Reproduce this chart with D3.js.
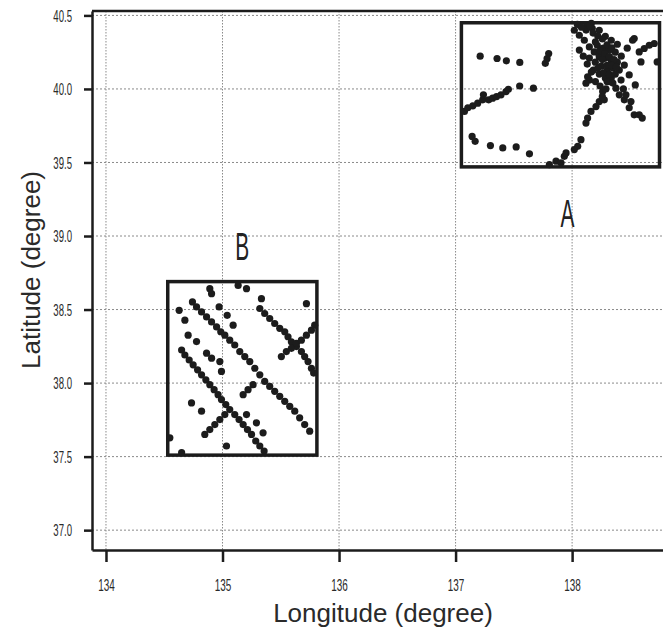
<!DOCTYPE html>
<html><head><meta charset="utf-8">
<script src="https://cdn.jsdelivr.net/npm/d3@7"></script>
<style>
html,body{margin:0;padding:0;background:#fff;}
svg{display:block;}
</style></head>
<body>
<svg id="chart" width="663" height="635"></svg>
<script>
// ---- data ----
const lonTicks = [134, 135, 136, 137, 138];
const latTicks = [37.0, 37.5, 38.0, 38.5, 39.0, 39.5, 40.0, 40.5];
const regionNames = ["A", "B"];
const regionLon = [[137.05, 138.75], [134.53, 135.81]];
const regionLat = [[39.47, 40.45], [37.51, 38.69]];
const regionLabelPos = [[137.96, 39.06], [135.17, 38.84]];

// Region A points (lon, lat)
const pointsALon = [
 137.211,137.356,137.436,137.551,137.770,137.799,137.785,
 137.076,137.105,137.148,137.190,137.233,137.239,137.284,137.318,137.352,137.390,137.433,137.453,137.550,137.668,
 137.142,137.168,137.299,137.405,137.520,137.634,
 137.805,137.862,137.933,137.948,138.019,138.048,138.076,137.905,
 138.019,138.062,138.105,138.148,138.190,138.233,138.119,138.173,138.233,
 138.319,138.376,138.405,138.448,138.490,138.533,138.576,138.602,138.462,138.505,
 138.262,138.233,138.205,138.162,138.133,138.119,138.148,138.119,138.133,
 138.533,138.576,138.619,138.662,138.705,138.730,138.519,138.591,
 138.276,138.259,
 138.216,138.267,138.319,138.370,138.233,138.285,138.336,138.388,138.199,138.250,138.302,138.353,138.405,138.233,138.285,138.336,138.182,138.148,138.422,138.448,138.062,138.096,138.130,138.165,138.388,138.336,138.285,138.473,138.490,138.542,
 138.045,138.165,
 138.18,138.22,138.26,138.30,138.34,138.20,138.24,138.28,138.32,138.36,138.26,138.30,138.34,138.38,138.22,138.27,138.32,138.37,138.30,138.35,138.42,138.44,138.20,138.24,138.29,138.12,138.08,138.15
];
const pointsALat = [
 40.223,40.207,40.191,40.180,40.174,40.241,40.206,
 39.847,39.872,39.885,39.903,39.926,39.960,39.926,39.937,39.948,39.960,39.982,39.998,40.020,40.005,
 39.677,39.644,39.615,39.599,39.606,39.559,
 39.486,39.509,39.542,39.565,39.588,39.610,39.655,39.498,
 40.399,40.365,40.331,40.286,40.252,40.218,40.421,40.412,40.399,
 40.049,40.005,39.960,39.926,39.872,39.824,39.824,39.802,39.960,39.914,
 39.982,39.914,39.880,39.847,39.802,39.768,40.061,40.039,40.083,
 40.343,40.252,40.275,40.297,40.309,40.184,40.331,40.184,
 39.926,39.948,
 40.297,40.277,40.264,40.250,40.230,40.210,40.196,40.182,40.182,40.155,40.128,40.142,40.128,40.101,40.074,40.074,40.128,40.210,40.223,40.162,40.264,40.223,40.169,40.115,40.304,40.331,40.358,40.277,40.095,40.027,
 40.439,40.446,
 40.38,40.36,40.34,40.30,40.28,40.32,40.26,40.24,40.22,40.20,40.20,40.16,40.16,40.15,40.14,40.11,40.10,40.10,40.05,40.04,40.06,40.00,40.05,40.02,40.00,40.40,40.42,40.43
];

// Region B points (lon, lat)
const pointsBLon = [
 134.742,134.777,134.820,134.863,134.906,134.949,134.985,135.020,135.062,135.105,135.148,135.191,135.234,135.277,135.320,135.362,135.405,135.448,135.491,135.534,135.577,135.620,135.662,135.705,135.748,
 134.649,134.677,134.714,134.748,134.786,134.820,134.857,134.891,134.928,134.962,134.991,135.028,135.062,135.105,135.142,135.177,135.214,135.249,135.285,135.320,135.357,
 135.320,135.362,135.405,135.448,135.491,135.534,135.562,135.591,135.634,135.677,135.705,135.734,135.763,135.782,
 135.505,135.548,135.591,135.634,135.677,135.720,135.763,135.791,
 135.334,135.720,
 135.177,135.219,135.262,
 134.848,134.891,134.934,134.977,135.020,
 134.677,134.705,134.777,134.863,134.906,134.977,134.991,134.891,134.906,134.971,135.040,135.091,134.734,134.820,135.206,135.291,135.348,135.034,134.548,134.649,135.134,135.206,134.628
];
const pointsBLat = [
 38.552,38.518,38.484,38.450,38.416,38.382,38.349,38.326,38.292,38.259,38.214,38.180,38.146,38.101,38.056,38.011,37.977,37.944,37.910,37.876,37.842,37.809,37.764,37.718,37.673,
 38.225,38.191,38.157,38.124,38.090,38.056,38.022,37.989,37.955,37.921,37.888,37.854,37.820,37.786,37.752,37.718,37.684,37.651,37.606,37.572,37.538,
 38.507,38.473,38.439,38.405,38.372,38.349,38.315,38.281,38.248,38.214,38.180,38.146,38.101,38.068,
 38.180,38.214,38.236,38.270,38.292,38.326,38.360,38.394,
 38.574,38.540,
 37.921,37.955,37.989,
 37.651,37.684,37.718,37.752,37.786,
 38.428,38.326,38.282,38.203,38.169,38.146,38.079,38.642,38.608,38.518,38.461,38.394,37.865,37.809,37.786,37.730,37.662,37.572,37.628,37.527,38.664,38.642,38.495
];

const xTitle = "Longitude (degree)";
const yTitle = "Latitude (degree)";

// ---- drawing ----
const svg = d3.select("#chart");
const pLeft = 92, pRight = 663, pTop = 11, pBottom = 550;
const x = d3.scaleLinear().domain([133.88, 138.78]).range([pLeft, pRight]);
const y = d3.scaleLinear().domain([36.865, 40.53]).range([pBottom, pTop]);
const ink = "#1c1c1c";

// grid
const grid = svg.append("g");
grid.selectAll("line.v").data(lonTicks).join("line")
  .attr("x1", d => x(d)).attr("x2", d => x(d))
  .attr("y1", pTop).attr("y2", pBottom)
  .attr("stroke", "#8a8a8a").attr("stroke-width", 1).attr("stroke-dasharray", "1.5,1.5");
grid.selectAll("line.h").data(latTicks).join("line")
  .attr("x1", pLeft).attr("x2", pRight)
  .attr("y1", d => y(d)).attr("y2", d => y(d))
  .attr("stroke", "#8a8a8a").attr("stroke-width", 1).attr("stroke-dasharray", "2,2");

// top frame line
svg.append("line").attr("x1", pLeft).attr("x2", pRight).attr("y1", pTop).attr("y2", pTop)
  .attr("stroke", ink).attr("stroke-width", 2.5);

// axes
const yAxis = d3.axisLeft(y).tickValues(latTicks).tickSize(8).tickSizeOuter(0).tickFormat(d3.format(".1f"));
const gy = svg.append("g").attr("transform", `translate(${pLeft},0)`).call(yAxis);
const xAxis = d3.axisBottom(x).tickValues(lonTicks).tickSize(12).tickSizeOuter(0).tickFormat(d3.format("d"));
const gx = svg.append("g").attr("transform", `translate(0,${pBottom})`).call(xAxis);
[gx, gy].forEach(g => {
  g.select(".domain").attr("stroke", ink).attr("stroke-width", 2.5);
  g.selectAll(".tick line").attr("stroke", ink).attr("stroke-width", 2.5);
  g.selectAll(".tick text").attr("fill", "#2a2a2a")
    .attr("font-family", "'Liberation Sans', Arial, sans-serif").attr("font-size", 16);
});
gy.selectAll(".tick text").each(function() {
  const t = d3.select(this);
  t.attr("x", null).attr("dy", "0.35em").attr("text-anchor", "end")
   .attr("transform", "translate(-20,0) scale(0.6,1)");
});
gx.selectAll(".tick text").each(function() {
  const t = d3.select(this);
  t.attr("y", null).attr("dy", null).attr("text-anchor", "middle")
   .attr("transform", "translate(0,41) scale(0.62,1)");
});

// region boxes
const regions = regionNames.map((n, i) => ({name: n, lon: regionLon[i], lat: regionLat[i], lp: regionLabelPos[i]}));
svg.append("g").selectAll("rect").data(regions).join("rect")
  .attr("x", d => x(d.lon[0])).attr("y", d => y(d.lat[1]))
  .attr("width", d => x(d.lon[1]) - x(d.lon[0]))
  .attr("height", d => y(d.lat[0]) - y(d.lat[1]))
  .attr("fill", "none").attr("stroke", ink).attr("stroke-width", 3.5);

svg.append("g").selectAll("text").data(regions).join("text")
  .attr("transform", d => `translate(${x(d.lp[0])},${y(d.lp[1])}) scale(0.55,1)`)
  .attr("text-anchor", "middle")
  .attr("font-family", "'Liberation Sans', Arial, sans-serif")
  .attr("font-size", 38).attr("fill", "#222")
  .text(d => d.name);

// points
const ptsA = pointsALon.map((lon, i) => [lon, pointsALat[i]]);
const ptsB = pointsBLon.map((lon, i) => [lon, pointsBLat[i]]);
svg.append("g").selectAll("circle").data(ptsA.concat(ptsB)).join("circle")
  .attr("cx", d => x(d[0])).attr("cy", d => y(d[1])).attr("r", 3.6)
  .attr("fill", ink);

// titles
svg.append("text").attr("x", 383).attr("y", 622).attr("text-anchor", "middle")
  .attr("font-family", "'Liberation Sans', Arial, sans-serif").attr("font-size", 26)
  .attr("fill", "#2a2a2a").text(xTitle);
svg.append("text").attr("transform", "translate(40,270) rotate(-90)").attr("text-anchor", "middle")
  .attr("font-family", "'Liberation Sans', Arial, sans-serif").attr("font-size", 26)
  .attr("fill", "#2a2a2a").text(yTitle);
</script>
</body></html>
